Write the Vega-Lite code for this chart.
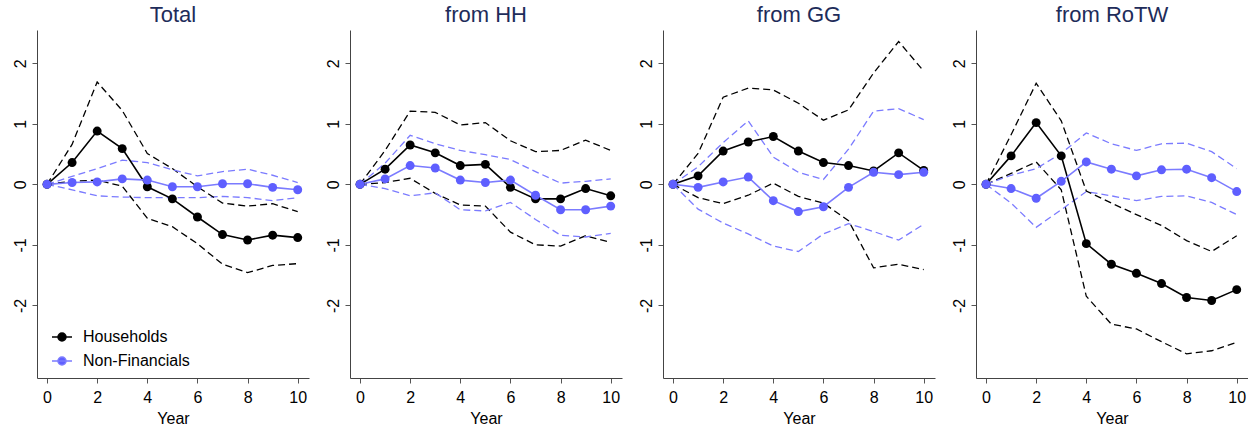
{
  "$schema": "https://vega.github.io/schema/vega-lite/v6.json",
  "padding": {"left": 12, "top": 4, "right": 0, "bottom": 0},
  "background": "white",
  "data": {"values": [
    {"panel":"Total","series":"Households","year":0,"est":0,"lo":0,"hi":0},
    {"panel":"Total","series":"Households","year":1,"est":0.36,"lo":0.05,"hi":0.66},
    {"panel":"Total","series":"Households","year":2,"est":0.88,"lo":0.07,"hi":1.69},
    {"panel":"Total","series":"Households","year":3,"est":0.59,"lo":-0.03,"hi":1.22},
    {"panel":"Total","series":"Households","year":4,"est":-0.04,"lo":-0.56,"hi":0.51},
    {"panel":"Total","series":"Households","year":5,"est":-0.24,"lo":-0.70,"hi":0.26},
    {"panel":"Total","series":"Households","year":6,"est":-0.54,"lo":-0.98,"hi":-0.04},
    {"panel":"Total","series":"Households","year":7,"est":-0.83,"lo":-1.32,"hi":-0.31},
    {"panel":"Total","series":"Households","year":8,"est":-0.92,"lo":-1.46,"hi":-0.36},
    {"panel":"Total","series":"Households","year":9,"est":-0.84,"lo":-1.34,"hi":-0.32},
    {"panel":"Total","series":"Households","year":10,"est":-0.88,"lo":-1.31,"hi":-0.45},
    {"panel":"Total","series":"Non-Financials","year":0,"est":0,"lo":0,"hi":0},
    {"panel":"Total","series":"Non-Financials","year":1,"est":0.03,"lo":-0.09,"hi":0.13},
    {"panel":"Total","series":"Non-Financials","year":2,"est":0.04,"lo":-0.19,"hi":0.26},
    {"panel":"Total","series":"Non-Financials","year":3,"est":0.09,"lo":-0.21,"hi":0.40},
    {"panel":"Total","series":"Non-Financials","year":4,"est":0.07,"lo":-0.22,"hi":0.36},
    {"panel":"Total","series":"Non-Financials","year":5,"est":-0.04,"lo":-0.22,"hi":0.24},
    {"panel":"Total","series":"Non-Financials","year":6,"est":-0.04,"lo":-0.22,"hi":0.14},
    {"panel":"Total","series":"Non-Financials","year":7,"est":0.01,"lo":-0.20,"hi":0.21},
    {"panel":"Total","series":"Non-Financials","year":8,"est":0.01,"lo":-0.22,"hi":0.25},
    {"panel":"Total","series":"Non-Financials","year":9,"est":-0.05,"lo":-0.27,"hi":0.15},
    {"panel":"Total","series":"Non-Financials","year":10,"est":-0.09,"lo":-0.22,"hi":0.03},
    {"panel":"from HH","series":"Households","year":0,"est":0,"lo":0,"hi":0},
    {"panel":"from HH","series":"Households","year":1,"est":0.25,"lo":0.03,"hi":0.56},
    {"panel":"from HH","series":"Households","year":2,"est":0.65,"lo":0.10,"hi":1.21},
    {"panel":"from HH","series":"Households","year":3,"est":0.52,"lo":-0.15,"hi":1.19},
    {"panel":"from HH","series":"Households","year":4,"est":0.31,"lo":-0.34,"hi":0.98},
    {"panel":"from HH","series":"Households","year":5,"est":0.33,"lo":-0.36,"hi":1.02},
    {"panel":"from HH","series":"Households","year":6,"est":-0.05,"lo":-0.79,"hi":0.72},
    {"panel":"from HH","series":"Households","year":7,"est":-0.24,"lo":-1.00,"hi":0.54},
    {"panel":"from HH","series":"Households","year":8,"est":-0.24,"lo":-1.02,"hi":0.56},
    {"panel":"from HH","series":"Households","year":9,"est":-0.07,"lo":-0.85,"hi":0.73},
    {"panel":"from HH","series":"Households","year":10,"est":-0.19,"lo":-0.96,"hi":0.56},
    {"panel":"from HH","series":"Non-Financials","year":0,"est":0,"lo":0,"hi":0},
    {"panel":"from HH","series":"Non-Financials","year":1,"est":0.09,"lo":-0.07,"hi":0.35},
    {"panel":"from HH","series":"Non-Financials","year":2,"est":0.31,"lo":-0.19,"hi":0.81},
    {"panel":"from HH","series":"Non-Financials","year":3,"est":0.27,"lo":-0.14,"hi":0.67},
    {"panel":"from HH","series":"Non-Financials","year":4,"est":0.07,"lo":-0.42,"hi":0.56},
    {"panel":"from HH","series":"Non-Financials","year":5,"est":0.03,"lo":-0.44,"hi":0.49},
    {"panel":"from HH","series":"Non-Financials","year":6,"est":0.07,"lo":-0.30,"hi":0.41},
    {"panel":"from HH","series":"Non-Financials","year":7,"est":-0.18,"lo":-0.58,"hi":0.21},
    {"panel":"from HH","series":"Non-Financials","year":8,"est":-0.42,"lo":-0.84,"hi":0.02},
    {"panel":"from HH","series":"Non-Financials","year":9,"est":-0.42,"lo":-0.87,"hi":0.05},
    {"panel":"from HH","series":"Non-Financials","year":10,"est":-0.36,"lo":-0.81,"hi":0.09},
    {"panel":"from GG","series":"Households","year":0,"est":0,"lo":0,"hi":0},
    {"panel":"from GG","series":"Households","year":1,"est":0.14,"lo":-0.22,"hi":0.51},
    {"panel":"from GG","series":"Households","year":2,"est":0.55,"lo":-0.32,"hi":1.44},
    {"panel":"from GG","series":"Households","year":3,"est":0.70,"lo":-0.18,"hi":1.59},
    {"panel":"from GG","series":"Households","year":4,"est":0.79,"lo":0.02,"hi":1.56},
    {"panel":"from GG","series":"Households","year":5,"est":0.55,"lo":-0.20,"hi":1.34},
    {"panel":"from GG","series":"Households","year":6,"est":0.36,"lo":-0.31,"hi":1.06},
    {"panel":"from GG","series":"Households","year":7,"est":0.31,"lo":-0.60,"hi":1.23},
    {"panel":"from GG","series":"Households","year":8,"est":0.22,"lo":-1.38,"hi":1.84},
    {"panel":"from GG","series":"Households","year":9,"est":0.52,"lo":-1.32,"hi":2.36},
    {"panel":"from GG","series":"Households","year":10,"est":0.23,"lo":-1.41,"hi":1.87},
    {"panel":"from GG","series":"Non-Financials","year":0,"est":0,"lo":0,"hi":0},
    {"panel":"from GG","series":"Non-Financials","year":1,"est":-0.05,"lo":-0.41,"hi":0.29},
    {"panel":"from GG","series":"Non-Financials","year":2,"est":0.04,"lo":-0.64,"hi":0.69},
    {"panel":"from GG","series":"Non-Financials","year":3,"est":0.12,"lo":-0.82,"hi":1.05},
    {"panel":"from GG","series":"Non-Financials","year":4,"est":-0.27,"lo":-1.02,"hi":0.45},
    {"panel":"from GG","series":"Non-Financials","year":5,"est":-0.45,"lo":-1.11,"hi":0.20},
    {"panel":"from GG","series":"Non-Financials","year":6,"est":-0.37,"lo":-0.82,"hi":0.08},
    {"panel":"from GG","series":"Non-Financials","year":7,"est":-0.05,"lo":-0.65,"hi":0.58},
    {"panel":"from GG","series":"Non-Financials","year":8,"est":0.20,"lo":-0.78,"hi":1.21},
    {"panel":"from GG","series":"Non-Financials","year":9,"est":0.16,"lo":-0.92,"hi":1.25},
    {"panel":"from GG","series":"Non-Financials","year":10,"est":0.20,"lo":-0.66,"hi":1.07},
    {"panel":"from RoTW","series":"Households","year":0,"est":0,"lo":0,"hi":0},
    {"panel":"from RoTW","series":"Households","year":1,"est":0.47,"lo":0.18,"hi":0.82},
    {"panel":"from RoTW","series":"Households","year":2,"est":1.02,"lo":0.37,"hi":1.67},
    {"panel":"from RoTW","series":"Households","year":3,"est":0.47,"lo":-0.09,"hi":1.05},
    {"panel":"from RoTW","series":"Households","year":4,"est":-0.98,"lo":-1.85,"hi":-0.11},
    {"panel":"from RoTW","series":"Households","year":5,"est":-1.32,"lo":-2.31,"hi":-0.31},
    {"panel":"from RoTW","series":"Households","year":6,"est":-1.47,"lo":-2.39,"hi":-0.50},
    {"panel":"from RoTW","series":"Households","year":7,"est":-1.64,"lo":-2.60,"hi":-0.68},
    {"panel":"from RoTW","series":"Households","year":8,"est":-1.87,"lo":-2.80,"hi":-0.93},
    {"panel":"from RoTW","series":"Households","year":9,"est":-1.92,"lo":-2.75,"hi":-1.11},
    {"panel":"from RoTW","series":"Households","year":10,"est":-1.74,"lo":-2.61,"hi":-0.85},
    {"panel":"from RoTW","series":"Non-Financials","year":0,"est":0,"lo":0,"hi":0},
    {"panel":"from RoTW","series":"Non-Financials","year":1,"est":-0.07,"lo":-0.31,"hi":0.15},
    {"panel":"from RoTW","series":"Non-Financials","year":2,"est":-0.23,"lo":-0.71,"hi":0.26},
    {"panel":"from RoTW","series":"Non-Financials","year":3,"est":0.05,"lo":-0.42,"hi":0.51},
    {"panel":"from RoTW","series":"Non-Financials","year":4,"est":0.37,"lo":-0.12,"hi":0.85},
    {"panel":"from RoTW","series":"Non-Financials","year":5,"est":0.25,"lo":-0.19,"hi":0.67},
    {"panel":"from RoTW","series":"Non-Financials","year":6,"est":0.14,"lo":-0.27,"hi":0.56},
    {"panel":"from RoTW","series":"Non-Financials","year":7,"est":0.24,"lo":-0.20,"hi":0.67},
    {"panel":"from RoTW","series":"Non-Financials","year":8,"est":0.25,"lo":-0.19,"hi":0.68},
    {"panel":"from RoTW","series":"Non-Financials","year":9,"est":0.11,"lo":-0.30,"hi":0.54},
    {"panel":"from RoTW","series":"Non-Financials","year":10,"est":-0.12,"lo":-0.50,"hi":0.26}
  ]},
  "facet": {
    "column": {
      "field": "panel", "type": "nominal",
      "sort": ["Total", "from HH", "from GG", "from RoTW"],
      "header": {"title": null, "labelFontSize": 22, "labelColor": "#1e2c5a", "labelFont": "Liberation Sans", "labelPadding": 3}
    }
  },
  "spacing": 16,
  "resolve": {"axis": {"y": "independent", "x": "independent"}},
  "spec": {
    "width": 272,
    "height": 348,
    "layer": [
      {
        "mark": {"type": "line", "strokeDash": [7, 4], "strokeWidth": 1.3},
        "encoding": {
          "x": {"field": "year", "type": "quantitative", "scale": {"domain": [-0.4, 10.45], "nice": false, "zero": false},
                "axis": {"values": [0, 2, 4, 6, 8, 10], "title": "Year"}},
          "y": {"field": "lo", "type": "quantitative", "scale": {"domain": [-3.2, 2.55], "nice": false, "zero": false},
                "axis": {"values": [-2, -1, 0, 1, 2], "title": null, "labelExpr": "'' + datum.value"}},
          "stroke": {"field": "series", "type": "nominal", "scale": {"domain": ["Households", "Non-Financials"], "range": ["#000000", "#7b7bff"]}}
        }
      },
      {
        "mark": {"type": "line", "strokeDash": [7, 4], "strokeWidth": 1.3},
        "encoding": {
          "x": {"field": "year", "type": "quantitative"},
          "y": {"field": "hi", "type": "quantitative"},
          "stroke": {"field": "series", "type": "nominal"}
        }
      },
      {
        "mark": {"type": "line", "strokeWidth": 1.6},
        "encoding": {
          "x": {"field": "year", "type": "quantitative"},
          "y": {"field": "est", "type": "quantitative"},
          "stroke": {"field": "series", "type": "nominal"}
        }
      },
      {
        "mark": {"type": "point", "filled": true, "size": 80, "opacity": 1, "strokeWidth": 0},
        "encoding": {
          "x": {"field": "year", "type": "quantitative"},
          "y": {"field": "est", "type": "quantitative"},
          "fill": {"field": "series", "type": "nominal", "scale": {"domain": ["Households", "Non-Financials"], "range": ["#000000", "#5f5fff"]}}
        }
      }
    ]
  },
  "config": {
    "view": {"stroke": null},
    "font": "Liberation Sans",
    "legend": {
      "title": null, "orient": "none", "legendX": 14, "legendY": 296,
      "symbolSize": 400, "symbolStrokeWidth": 1.5, "labelFontSize": 16, "labelFont": "Liberation Sans",
      "labelColor": "#000000", "labelOffset": 10, "rowPadding": 5, "padding": 0,
      "symbolType": "M-1,0L1,0M0.4,0A0.4,0.4,0,1,1,-0.4,0A0.4,0.4,0,1,1,0.4,0Z"
    },
    "axis": {"grid": false, "domainColor": "#444444", "tickColor": "#555555", "tickSize": 5, "labelFontSize": 16, "labelColor": "#000000", "titleFontSize": 16, "titleFontWeight": "normal", "titleColor": "#000000", "labelFont": "Liberation Sans", "titleFont": "Liberation Sans"},
    "axisY": {"labelAngle": -90, "labelAlign": "center", "labelBaseline": "bottom", "labelPadding": 4},
    "axisX": {"labelPadding": 6, "titlePadding": 5}
  }
}
